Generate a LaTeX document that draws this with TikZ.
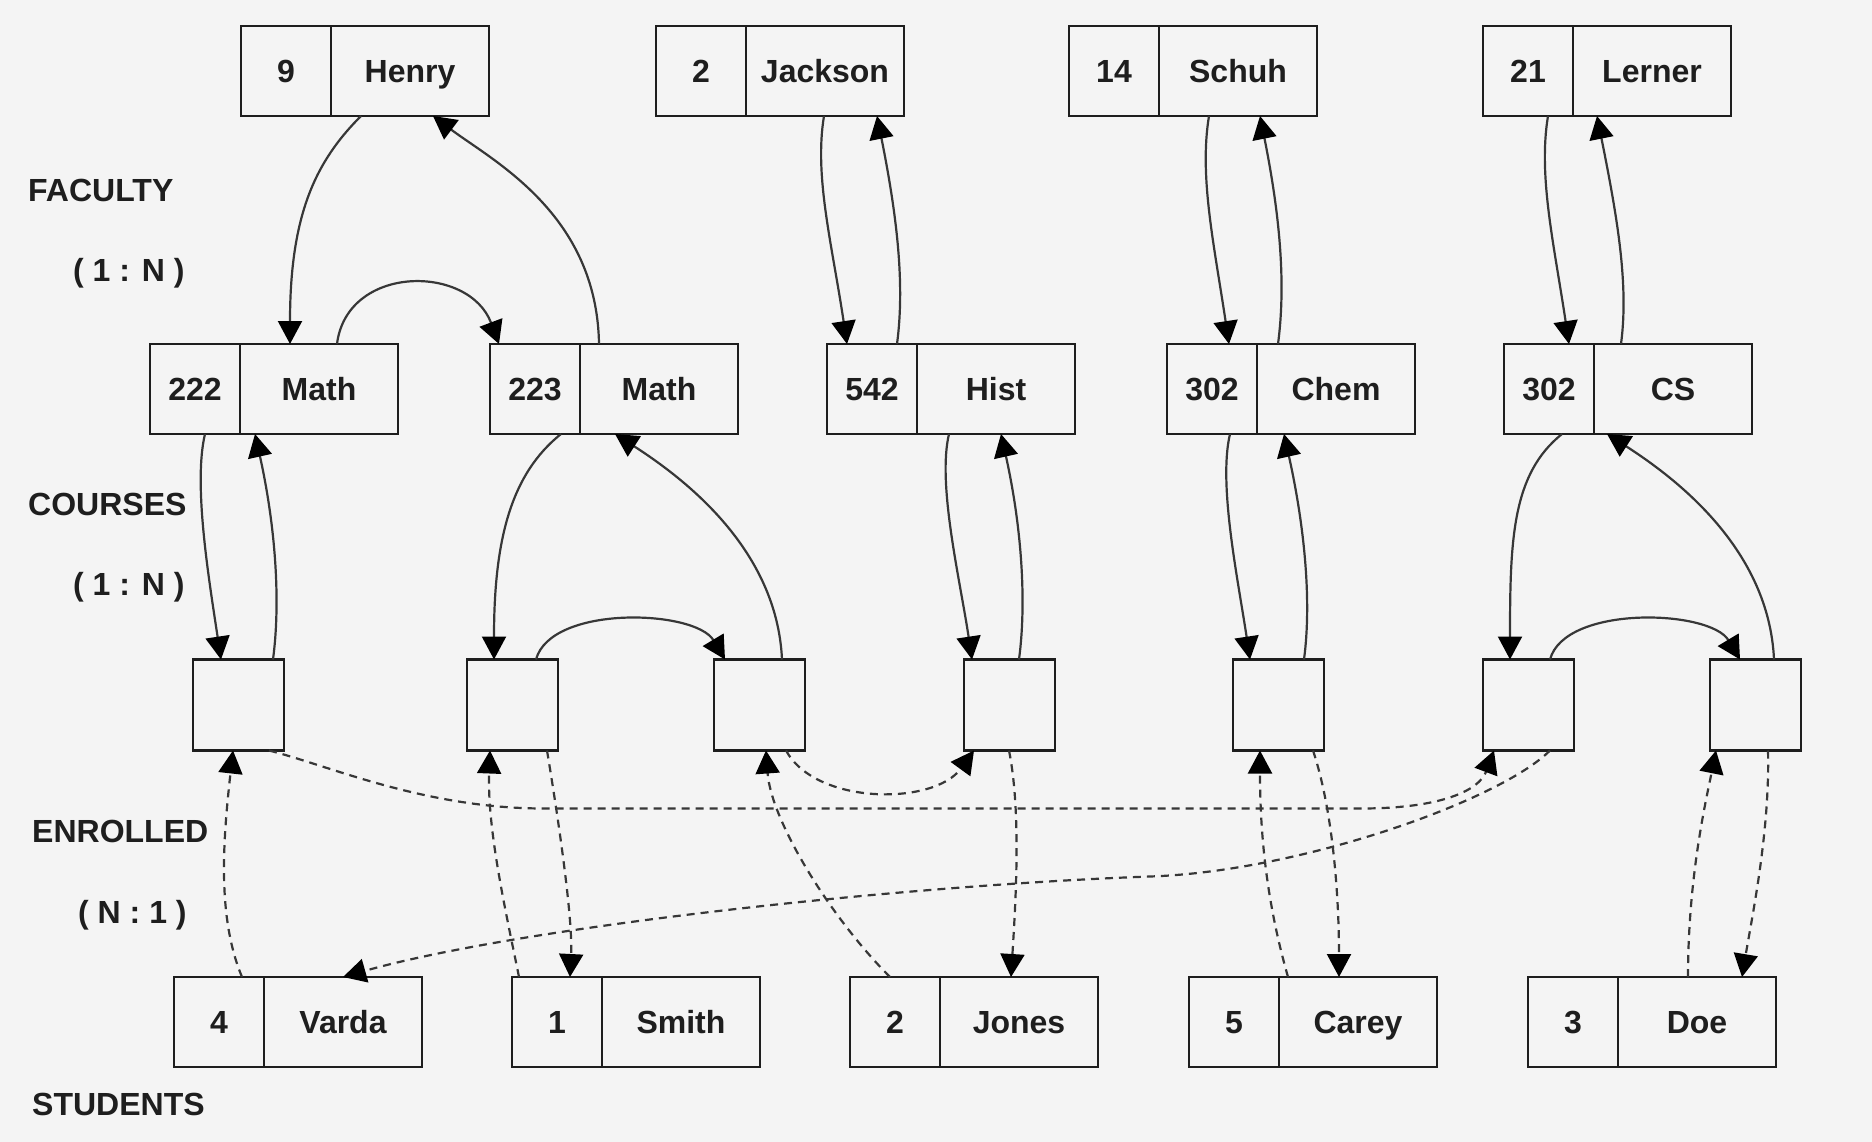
\documentclass[tikz,border=0pt]{standalone}
\usepackage{fontspec}
\setmainfont{Liberation Sans}
\usetikzlibrary{arrows.meta}
\definecolor{bg}{RGB}{244,244,244}
\definecolor{ink}{RGB}{30,30,30}
\definecolor{wire}{RGB}{55,55,55}
\tikzset{
  cell/.style={draw=ink, line width=2.5pt, fill=bg, minimum width=90pt, minimum height=90pt,
    inner sep=0pt, outer sep=0pt, text height=23pt, text depth=0pt, text=ink,
    font=\bfseries\fontsize{32}{38}\selectfont},
  namecell/.style={cell, minimum width=158pt, anchor=west},
  linkcell/.style={cell, minimum width=91pt, minimum height=91pt},
  ptr/.style={draw=wire, line width=2.2pt, -{Triangle[length=23pt,width=24pt,color=black]}},
  dptr/.style={ptr, dash pattern=on 8pt off 6pt},
  tag/.style={anchor=base west, inner sep=0pt, text=ink, font=\bfseries\fontsize{32}{38}\selectfont},
}
\begin{document}
\begin{tikzpicture}[x=1pt, y=-1pt]
    \fill[bg] (0,0) rectangle (1872,1142);
    \useasboundingbox (0,0) rectangle (1872,1142);
    % Draw level labels
    \node[tag] (lfac) at (28,202) {FACULTY};
    \node[tag] (rfac) at (73,282) {( 1 : N )};
    \node[tag] (lcrs) at (28,515) {COURSES};
    \node[tag] (rcrs) at (73,595) {( 1 : N )};
    \node[tag] (lenr) at (32,842) {ENROLLED};
    \node[tag] (renr) at (78,923) {( N : 1 )};
    \node[tag] (lstu) at (32,1115) {STUDENTS};
    % Draw records
    \foreach \id/\xx/\kv/\nm in {f1/241/9/Henry, f2/656/2/Jackson, f3/1069/14/Schuh, f4/1483/21/Lerner}{
      \node[cell] (\id-k) at (\xx+45,71) {\kv};
      \node[namecell] (\id) at (\id-k.east) {\nm};
    }
    \foreach \id/\xx/\kv/\nm in {c1/150/222/Math, c2/490/223/Math, c3/827/542/Hist, c4/1167/302/Chem, c5/1504/302/CS}{
      \node[cell] (\id-k) at (\xx+45,389) {\kv};
      \node[namecell] (\id) at (\id-k.east) {\nm};
    }
    \foreach \id/\xx in {e1/193, e2/467, e3/714, e4/964, e5/1233, e6/1483, e7/1710}{
      \node[linkcell] (\id) at (\xx+45.5,705) {};
    }
    \foreach \id/\xx/\kv/\nm in {s1/174/4/Varda, s2/512/1/Smith, s3/850/2/Jones, s4/1189/5/Carey, s5/1528/3/Doe}{
      \node[cell] (\id-k) at (\xx+45,1022) {\kv};
      \node[namecell] (\id) at (\id-k.east) {\nm};
    }
    % Draw faculty - course chains
    \draw[ptr] ([xshift=120pt]f1-k.south west) .. controls +(-45,45) and +(0,-130) .. ([xshift=140pt]c1-k.north west);
    \draw[ptr] ([xshift=187pt]c1-k.north west) .. controls +(10,-80) and +(-30,-80) .. ([xshift=9pt]c2-k.north west);
    \draw[ptr] ([xshift=109pt]c2-k.north west) .. controls +(-2,-130) and +(60,45) .. ([xshift=192pt]f1-k.south west);
    \draw[ptr] ([xshift=168pt]f2-k.south west) .. controls +(-10,60) and +(-15,-100) .. ([xshift=20pt]c3-k.north west);
    \draw[ptr] ([xshift=70pt]c3-k.north west) .. controls +(8,-60) and +(20,100) .. ([xshift=221pt]f2-k.south west);
    \draw[ptr] ([xshift=140pt]f3-k.south west) .. controls +(-10,60) and +(-15,-100) .. ([xshift=62pt]c4-k.north west);
    \draw[ptr] ([xshift=111pt]c4-k.north west) .. controls +(8,-60) and +(20,100) .. ([xshift=191pt]f3-k.south west);
    \draw[ptr] ([xshift=65pt]f4-k.south west) .. controls +(-10,60) and +(-15,-100) .. ([xshift=65pt]c5-k.north west);
    \draw[ptr] ([xshift=117pt]c5-k.north west) .. controls +(8,-60) and +(20,100) .. ([xshift=114pt]f4-k.south west);
    % Draw course - enrolled chains
    \draw[ptr] ([xshift=55pt]c1-k.south west) .. controls +(-12,50) and +(-12,-80) .. ([xshift=28pt]e1.north west);
    \draw[ptr] ([xshift=80pt]e1.north west) .. controls +(8,-60) and +(20,90) .. ([xshift=105pt]c1-k.south west);
    \draw[ptr] ([xshift=71pt]c2-k.south west) .. controls +(-50,40) and +(0,-120) .. ([xshift=27pt]e2.north west);
    \draw[ptr] ([xshift=69pt]e2.north west) .. controls +(15,-55) and +(-30,-50) .. ([xshift=11pt]e3.north west);
    \draw[ptr] ([xshift=68pt]e3.north west) .. controls +(-5,-110) and +(70,45) .. ([xshift=125pt]c2-k.south west);
    \draw[ptr] ([xshift=122pt]c3-k.south west) .. controls +(-12,50) and +(-12,-80) .. ([xshift=8pt]e4.north west);
    \draw[ptr] ([xshift=55pt]e4.north west) .. controls +(8,-60) and +(20,90) .. ([xshift=174pt]c3-k.south west);
    \draw[ptr] ([xshift=63pt]c4-k.south west) .. controls +(-12,50) and +(-12,-80) .. ([xshift=17pt]e5.north west);
    \draw[ptr] ([xshift=71pt]e5.north west) .. controls +(8,-60) and +(20,90) .. ([xshift=117pt]c4-k.south west);
    \draw[ptr] ([xshift=58pt]c5-k.south west) .. controls +(-50,40) and +(0,-120) .. ([xshift=27pt]e6.north west);
    \draw[ptr] ([xshift=67pt]e6.north west) .. controls +(15,-55) and +(-30,-50) .. ([xshift=30pt]e7.north west);
    \draw[ptr] ([xshift=64pt]e7.north west) .. controls +(-5,-110) and +(70,45) .. ([xshift=103pt]c5-k.south west);
    % Draw enrolled - student chains
    \draw[dptr] ([xshift=68pt]s1-k.north west) .. controls +(-25,-60) and +(-10,90) .. ([xshift=40pt]e1.south west);
    \draw[dptr] ([xshift=76pt]e1.south west) .. controls +(60,15) and +(-120,0) .. ([xshift=351pt,yshift=-58pt]e1.south west)
      -- ([xshift=-122pt,yshift=-58pt]e6.south west) .. controls +(80,0) and +(-15,40) .. ([xshift=11pt]e6.south west);
    \draw[dptr] ([xshift=67pt]e6.south west) .. controls +(-50,50) and +(150,-5) .. ([xshift=-333pt,yshift=-126pt]e6.south west)
      .. controls +(-250,9) and +(177,-50) .. ([xshift=169pt]s1-k.north west);
    \draw[dptr] ([xshift=7pt]s2-k.north west) .. controls +(-12,-60) and +(-3,80) .. ([xshift=23pt]e2.south west);
    \draw[dptr] ([xshift=80pt]e2.south west) .. controls +(10,60) and +(3,-60) .. ([xshift=58pt]s2-k.north west);
    \draw[dptr] ([xshift=40pt]s3-k.north west) .. controls +(-60,-60) and +(5,70) .. ([xshift=52pt]e3.south west);
    \draw[dptr] ([xshift=72pt]e3.south west) .. controls +(30,55) and +(-40,55) .. ([xshift=10pt]e4.south west);
    \draw[dptr] ([xshift=45pt]e4.south west) .. controls +(12,60) and +(5,-80) .. ([xshift=161pt]s3-k.north west);
    \draw[dptr] ([xshift=99pt]s4-k.north west) .. controls +(-20,-70) and +(0,90) .. ([xshift=27pt]e5.south west);
    \draw[dptr] ([xshift=80pt]e5.south west) .. controls +(20,60) and +(0,-80) .. ([xshift=150pt]s4-k.north west);
    \draw[dptr] ([xshift=160pt]s5-k.north west) .. controls +(0,-100) and +(-10,50) .. ([xshift=6pt]e7.south west);
    \draw[dptr] ([xshift=58pt]e7.south west) .. controls +(2,80) and +(10,-60) .. ([xshift=214pt]s5-k.north west);
\end{tikzpicture}
\end{document}
